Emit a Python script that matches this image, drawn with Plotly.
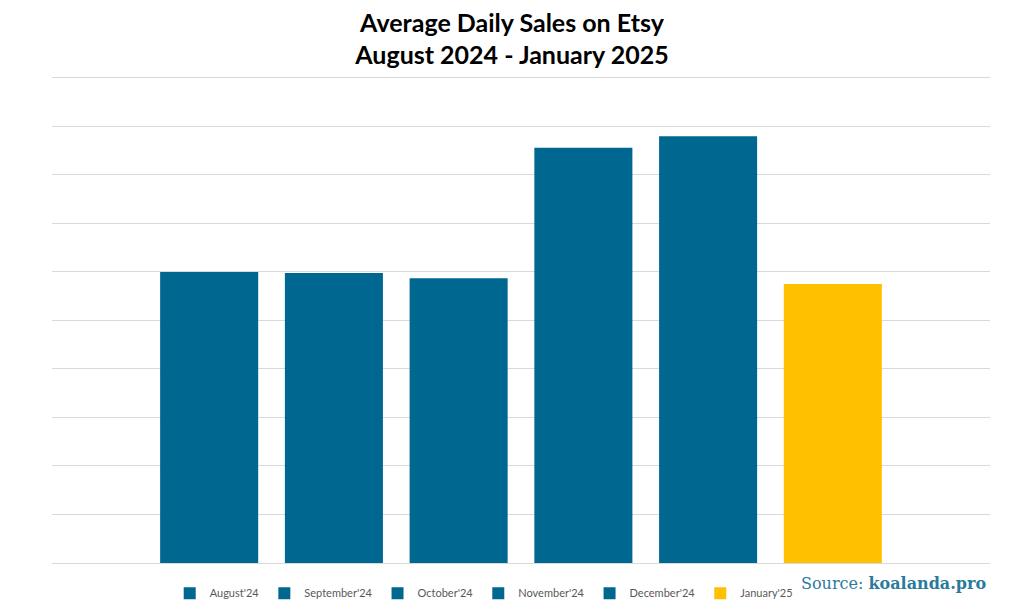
import plotly.graph_objects as go

months = ["August'24", "September'24", "October'24", "November'24", "December'24", "January'25"]
sales = [6.0, 5.98, 5.87, 8.56, 8.80, 5.75]
colors = ["#006890", "#006890", "#006890", "#006890", "#006890", "#FFC000"]

fig = go.Figure()
for m, v, c in zip(months, sales, colors):
    fig.add_trace(go.Bar(x=[m], y=[v], name=m, marker=dict(color=c, line=dict(width=0)),
                         width=0.786, hoverinfo="x+y"))

fig.update_layout(
    width=1008, height=598,
    margin=dict(l=44, r=26, t=68, b=43, autoexpand=False),
    paper_bgcolor="white", plot_bgcolor="white",
    barmode="overlay",
    title=dict(text="<b>Average Daily Sales on Etsy<br>August 2024 - January 2025</b>",
               x=0.5, xanchor="center", y=0.96, yanchor="top",
               font=dict(family="Lato", size=25, color="#000000")),
    xaxis=dict(type="category", categoryorder="array", categoryarray=months,
               range=[-1.26, 6.26], showticklabels=False, showgrid=False,
               zeroline=False, showline=False, ticks=""),
    yaxis=dict(range=[0, 10.04], dtick=1, showticklabels=False, showgrid=True,
               gridcolor="#d9d9d9", gridwidth=1, zeroline=True, zerolinecolor="#d9d9d9",
               zerolinewidth=1, ticks=""),
    legend=dict(orientation="h", x=0.795, xanchor="right", y=-0.062, yanchor="middle",
                font=dict(family="Lato", size=11, color="#595959"),
                itemwidth=30, traceorder="normal"),
    showlegend=True,
    annotations=[dict(text="Source: <b>koalanda.pro</b>", xref="paper", yref="paper",
                      x=0.998, y=-0.043, xanchor="right", yanchor="middle", showarrow=False,
                      font=dict(family="DejaVu Serif", size=16, color="#2a7a9b"))],
)

fig.write_html("out.html")
